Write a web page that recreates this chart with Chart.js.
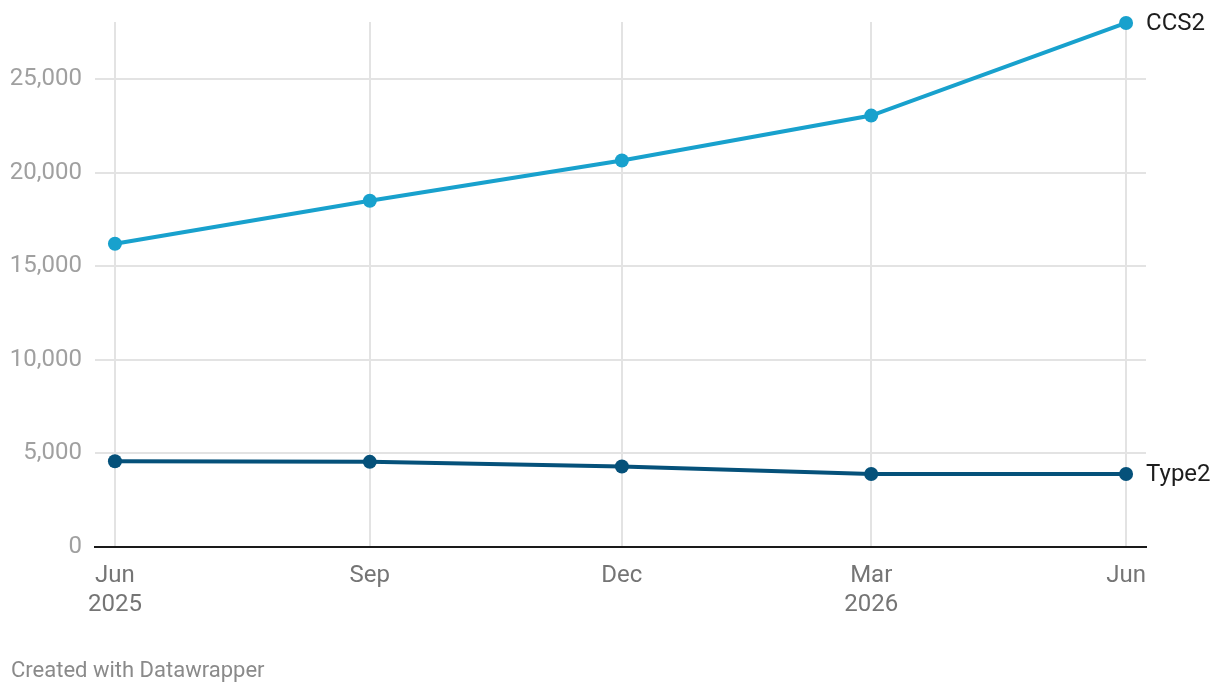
<!DOCTYPE html>
<html>
<head>
<meta charset="utf-8">
<script src="https://cdn.jsdelivr.net/npm/chart.js@4/dist/chart.umd.min.js"></script>
<style>
  html, body { margin: 0; padding: 0; background: #fff; }
  #wrap { width: 1220px; height: 694px; position: relative; }
</style>
</head>
<body>
<div id="wrap"><canvas id="chart"></canvas></div>
<script>
// dates of each reading (year, month 1-12)
const dates = [[2025, 6], [2025, 9], [2025, 12], [2026, 3], [2026, 6]];
const tickLabels = [['Jun', '2025'], 'Sep', 'Dec', ['Mar', '2026'], 'Jun'];
const ccs2 = [16200, 18500, 20650, 23050, 28000];
const type2 = [4580, 4550, 4300, 3900, 3900];
const yTicks = [0, 5000, 10000, 15000, 20000, 25000];

const DAY = 86400000;
const start = Date.UTC(dates[0][0], dates[0][1] - 1, 1);
const days = dates.map(d => (Date.UTC(d[0], d[1] - 1, 1) - start) / DAY);

const series = [
    { label: 'CCS2', values: ccs2, color: '#18a1cd' },
    { label: 'Type2', values: type2, color: '#05517a' }
];

// draws series names next to the last point + footer
const endLabels = {
    id: 'endLabels',
    afterDatasetsDraw(chart) {
        const ctx = chart.ctx;
        const x = chart.scales.x, y = chart.scales.y;
        ctx.save();
        ctx.font = '24px Roboto';
        ctx.fillStyle = '#1d1d1d';
        ctx.textBaseline = 'middle';
        ctx.textAlign = 'left';
        chart.data.datasets.forEach(ds => {
            const last = ds.data[ds.data.length - 1];
            ctx.fillText(ds.label, x.getPixelForValue(last.x) + 20, y.getPixelForValue(last.y) + 1);
        });
        ctx.font = '22px Roboto';
        ctx.fillStyle = '#8a8a8a';
        ctx.textBaseline = 'alphabetic';
        ctx.fillText('Created with Datawrapper', 11, 677);
        ctx.restore();
    }
};

new Chart(document.getElementById('chart'), {
    type: 'line',
    data: {
        datasets: series.map(s => ({
            label: s.label,
            data: s.values.map((v, i) => ({ x: days[i], y: v })),
            borderColor: s.color,
            backgroundColor: s.color,
            borderWidth: 4,
            pointRadius: 7,
            pointBorderWidth: 0,
            pointHoverRadius: 7,
            tension: 0,
            clip: false
        }))
    },
    options: {
        responsive: true,
        maintainAspectRatio: false,
        animation: false,
        layout: { padding: { top: 22, right: 74, left: 0, bottom: 0 } },
        plugins: { legend: { display: false }, tooltip: { enabled: false } },
        scales: {
            x: {
                type: 'linear',
                min: days[0] - 7.2,
                max: days[days.length - 1] + 7.2,
                afterBuildTicks: scale => { scale.ticks = days.map(v => ({ value: v })); },
                afterFit: scale => { scale.height = 147; scale.paddingLeft = 0; scale.paddingRight = 0; },
                ticks: {
                    autoSkip: false,
                    maxRotation: 0,
                    padding: 15,
                    color: '#757575',
                    font: { family: 'Roboto', size: 24, lineHeight: 1.2 },
                    callback: (v, i) => tickLabels[i]
                },
                grid: { color: '#e3e3e3', lineWidth: 2, drawTicks: false },
                border: { display: true, color: '#1a1a1a', width: 2 }
            },
            y: {
                min: 0,
                max: 28050,
                afterBuildTicks: scale => { scale.ticks = yTicks.map(v => ({ value: v })); },
                afterFit: scale => { scale.width = 95; scale.paddingTop = 0; scale.paddingBottom = 0; },
                ticks: {
                    padding: 13,
                    color: '#a0a0a0',
                    font: { family: 'Roboto', size: 24 },
                    callback: v => v.toLocaleString('en-US')
                },
                grid: { color: '#e3e3e3', lineWidth: 2, drawTicks: false },
                border: { display: false }
            }
        }
    },
    plugins: [endLabels]
});
</script>
</body>
</html>
